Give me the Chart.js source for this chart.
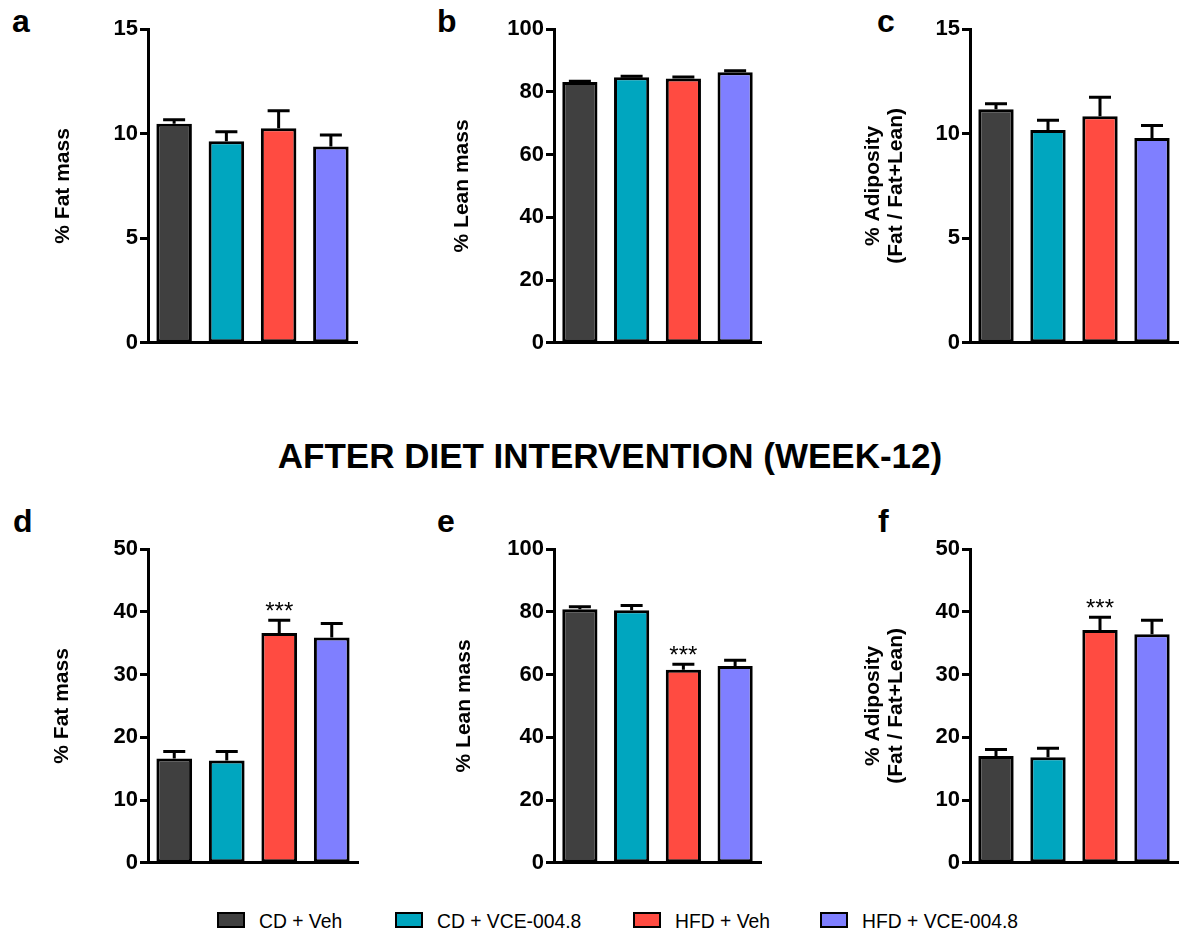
<!DOCTYPE html>
<html>
<head>
<meta charset="utf-8">
<script src="https://cdn.jsdelivr.net/npm/chart.js@4.4.0/dist/chart.umd.min.js"></script>
<style>
body { margin:0; background:#fff; width:1179px; height:933px; position:relative; overflow:hidden; font-family:"Liberation Sans", Arial, sans-serif; color:#000; }
canvas { position:absolute; }
.lettera { position:absolute; font-weight:bold; font-size:32px; line-height:32px; }
#titolo { position:absolute; left:0; width:1220px; top:438px; text-align:center; font-weight:bold; font-size:35px; line-height:35px; white-space:nowrap; }
.voce { position:absolute; top:911px; font-size:20px; line-height:20px; white-space:nowrap; transform:scaleX(0.965); transform-origin:left center; }
.quadro { position:absolute; top:912px; width:28px; height:16px; border:2px solid #000; box-sizing:border-box; }
</style>
</head>
<body>
<div class="lettera" style="left:12px;top:5px">a</div>
<div class="lettera" style="left:437px;top:5px">b</div>
<div class="lettera" style="left:877px;top:5px">c</div>
<div class="lettera" style="left:13px;top:505px">d</div>
<div class="lettera" style="left:437px;top:505px">e</div>
<div class="lettera" style="left:878px;top:505px">f</div>
<div id="titolo">AFTER DIET INTERVENTION (WEEK-12)</div>
<div id="legenda"></div>
<canvas id="ga" width="309" height="358" style="left:52px;top:0px"></canvas>
<canvas id="gb" width="314" height="358" style="left:451px;top:0px"></canvas>
<canvas id="gc" width="320" height="358" style="left:862px;top:0px"></canvas>
<canvas id="gd" width="311" height="358" style="left:51px;top:520px"></canvas>
<canvas id="ge" width="312" height="358" style="left:453px;top:520px"></canvas>
<canvas id="gf" width="320" height="358" style="left:862px;top:520px"></canvas>
<script>
// Gruppi e colori
const gruppi = ['CD + Veh', 'CD + VCE-004.8', 'HFD + Veh', 'HFD + VCE-004.8'];
const colori = ['#404040', '#00a6bf', '#ff4b41', '#7f7fff'];

// Prima dell'intervento (a, b, c)
const grassoPre = [10.47, 9.63, 10.26, 9.38];
const grassoPreSem = [0.24, 0.51, 0.88, 0.60];
const magroPre = [83.1, 84.6, 84.2, 86.2];
const magroPreSem = [0.6, 0.7, 0.8, 0.8];
const adipPre = [11.16, 10.17, 10.83, 9.79];
const adipPreSem = [0.32, 0.51, 0.96, 0.64];

// Dopo 12 settimane (d, e, f)
const grassoPost = [16.6, 16.3, 36.6, 35.9];
const grassoPostSem = [1.3, 1.6, 2.2, 2.4];
const magroPost = [80.8, 80.5, 61.5, 62.7];
const magroPostSem = [1.1, 1.8, 2.1, 2.2];
const adipPost = [17.0, 16.8, 37.1, 36.4];
const adipPostSem = [1.2, 1.6, 2.2, 2.4];
const stelle = ['', '', '***', ''];

const titoloAdip = ['% Adiposity', '(Fat / Fat+Lean)'];

Chart.defaults.font.family = '"Liberation Sans", Arial, sans-serif';
Chart.defaults.color = '#000';

// Disegna le barre di errore (solo verso l'alto) e gli asterischi
const barreErrore = {
    id: 'barreErrore',
    afterDatasetsDraw(chart, args, opts) {
        const ctx = chart.ctx;
        const y = chart.scales.y;
        const dati = chart.data.datasets[0].data;
        ctx.save();
        ctx.strokeStyle = '#000';
        ctx.fillStyle = '#000';
        ctx.lineWidth = 3;
        chart.getDatasetMeta(0).data.forEach((barra, i) => {
            const base = y.getPixelForValue(dati[i]);
            const cima = y.getPixelForValue(dati[i] + opts.sem[i]) + 1;
            ctx.beginPath();
            ctx.moveTo(barra.x, base);
            ctx.lineTo(barra.x, cima);
            ctx.moveTo(barra.x - 11, cima);
            ctx.lineTo(barra.x + 11, cima);
            ctx.stroke();
            if (opts.stelle && opts.stelle[i]) {
                ctx.font = '24px "Liberation Sans", Arial, sans-serif';
                ctx.textAlign = 'center';
                ctx.textBaseline = 'alphabetic';
                ctx.fillText(opts.stelle[i], barra.x, cima - 1);
            }
        });
        ctx.restore();
    }
};

function grafico(id, valori, sem, titolo, max, passo, larghezzaAsse, segni) {
    new Chart(document.getElementById(id), {
        type: 'bar',
        data: {
            labels: gruppi,
            datasets: [{
                data: valori,
                backgroundColor: colori,
                borderColor: '#000',
                borderWidth: 3,
                borderSkipped: false,
                categoryPercentage: 1,
                barPercentage: 0.68
            }]
        },
        options: {
            responsive: false,
            animation: false,
            layout: { padding: { top: 29, right: 4, bottom: 4, left: 0 } },
            plugins: {
                legend: { display: false },
                tooltip: { enabled: false },
                barreErrore: { sem: sem, stelle: segni }
            },
            scales: {
                x: {
                    grid: { display: false },
                    ticks: { display: false },
                    border: { display: true, color: '#000', width: 3 },
                    afterFit: s => { s.height = 10; }
                },
                y: {
                    min: 0,
                    max: max,
                    ticks: { stepSize: passo, padding: 2, color: '#000', font: { size: 22, weight: 'bold' } },
                    grid: { display: true, drawOnChartArea: false, drawTicks: true, tickLength: 8, tickWidth: 3, tickColor: '#000' },
                    border: { display: true, color: '#000', width: 3 },
                    title: { display: true, text: titolo, color: '#000', padding: { top: 0, bottom: 0 }, font: { size: 21, weight: 'bold', lineHeight: 1.1 } },
                    afterFit: s => { s.width = larghezzaAsse; }
                }
            }
        },
        plugins: [barreErrore]
    });
}

grafico('ga', grassoPre, grassoPreSem, '% Fat mass', 15, 5, 96, null);
grafico('gb', magroPre, magroPreSem, '% Lean mass', 100, 20, 103, null);
grafico('gc', adipPre, adipPreSem, titoloAdip, 15, 5, 108, null);
grafico('gd', grassoPost, grassoPostSem, '% Fat mass', 50, 10, 97, stelle);
grafico('ge', magroPost, magroPostSem, '% Lean mass', 100, 20, 101, stelle);
grafico('gf', adipPost, adipPostSem, titoloAdip, 50, 10, 108, stelle);

// Legenda in basso
const posLegenda = [217, 395, 633, 820];
const legenda = document.getElementById('legenda');
gruppi.forEach((g, i) => {
    const q = document.createElement('div');
    q.className = 'quadro';
    q.style.left = posLegenda[i] + 'px';
    q.style.background = colori[i];
    legenda.appendChild(q);
    const t = document.createElement('div');
    t.className = 'voce';
    t.style.left = (posLegenda[i] + 42) + 'px';
    t.textContent = g;
    legenda.appendChild(t);
});
</script>
</body>
</html>
